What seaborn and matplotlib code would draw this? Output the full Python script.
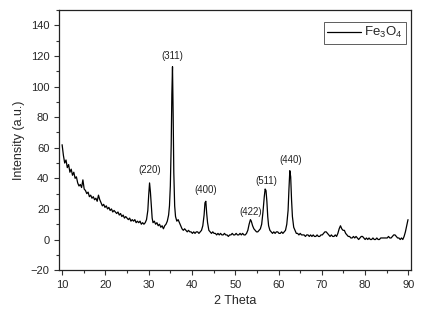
import matplotlib.pyplot as plt
import seaborn as sns
import pandas as pd
from matplotlib.ticker import MultipleLocator

# XRD pattern of Fe3O4 (10 points per row)
two_theta = [10.0, 10.3, 10.6, 10.9, 11.2, 11.5, 11.8, 12.1, 12.4, 12.7,
             13.0, 13.3, 13.6, 13.9, 14.2, 14.5, 14.8, 15.1, 15.4, 15.7,
             16.0, 16.3, 16.6, 16.9, 17.2, 17.5, 17.8, 18.1, 18.4, 18.7,
             19.0, 19.3, 19.6, 19.9, 20.2, 20.5, 20.8, 21.1, 21.4, 21.7,
             22.0, 22.3, 22.6, 22.9, 23.2, 23.5, 23.8, 24.1, 24.4, 24.7,
             25.0, 25.3, 25.6, 25.9, 26.2, 26.5, 26.8, 27.1, 27.4, 27.7,
             28.0, 28.3, 28.6, 28.9, 29.2, 29.5, 29.8, 30.0, 30.2, 30.4,
             30.6, 30.8, 31.0, 31.3, 31.6, 31.9, 32.2, 32.5, 32.8, 33.1,
             33.4, 33.7, 34.0, 34.3, 34.6, 34.8, 35.0, 35.2, 35.35, 35.5,
             35.65, 35.8, 36.0, 36.2, 36.5, 36.8, 37.1, 37.4, 37.7, 38.0,
             38.3, 38.6, 38.9, 39.2, 39.5, 39.8, 40.1, 40.4, 40.7, 41.0,
             41.3, 41.6, 41.9, 42.2, 42.5, 42.8, 43.0, 43.2, 43.4, 43.6,
             43.9, 44.2, 44.5, 44.8, 45.1, 45.4, 45.7, 46.0, 46.3, 46.6,
             46.9, 47.2, 47.5, 47.8, 48.1, 48.4, 48.7, 49.0, 49.3, 49.6,
             49.9, 50.2, 50.5, 50.8, 51.1, 51.4, 51.7, 52.0, 52.3, 52.6,
             52.9, 53.2, 53.5, 53.7, 54.0, 54.3, 54.6, 54.9, 55.2, 55.5,
             55.8, 56.1, 56.4, 56.7, 56.9, 57.1, 57.3, 57.5, 57.7, 58.0,
             58.3, 58.6, 58.9, 59.2, 59.5, 59.8, 60.1, 60.4, 60.7, 61.0,
             61.3, 61.6, 61.9, 62.2, 62.4, 62.6, 62.8, 63.0, 63.2, 63.5,
             63.8, 64.1, 64.4, 64.7, 65.0, 65.3, 65.6, 65.9, 66.2, 66.5,
             66.8, 67.1, 67.4, 67.7, 68.0, 68.3, 68.6, 68.9, 69.2, 69.5,
             69.8, 70.1, 70.4, 70.7, 71.0, 71.3, 71.6, 71.9, 72.2, 72.5,
             72.8, 73.1, 73.4, 73.7, 74.0, 74.3, 74.6, 74.9, 75.2, 75.5,
             75.8, 76.1, 76.4, 76.7, 77.0, 77.3, 77.6, 77.9, 78.2, 78.5,
             78.8, 79.1, 79.4, 79.7, 80.0, 80.3, 80.6, 80.9, 81.2, 81.5,
             81.8, 82.1, 82.4, 82.7, 83.0, 83.3, 83.6, 83.9, 84.2, 84.5,
             84.8, 85.1, 85.4, 85.7, 86.0, 86.3, 86.6, 86.9, 87.2, 87.5,
             87.8, 88.1, 88.4, 88.7, 89.0, 89.3, 89.6, 89.9]
intensity = [62, 55, 50, 52, 47, 49, 44, 46, 42, 44,
             40, 41, 37, 35, 36, 34, 39, 33, 32, 30,
             31, 28, 29, 27, 28, 26, 27, 25, 29, 26,
             24, 22, 23, 21, 22, 20, 21, 19, 20, 18,
             19, 18, 17, 18, 16, 17, 15, 16, 14, 15,
             14, 13, 14, 12, 13, 12, 13, 11, 12, 11,
             12, 10, 11, 10, 11, 13, 19, 29, 37, 31,
             22, 14, 11, 12, 10, 11, 9, 10, 8, 9,
             7, 9, 10, 12, 16, 22, 35, 62, 95, 113,
             82, 44, 22, 15, 12, 13, 11, 9, 7, 6,
             7, 6, 5, 6, 5, 5, 4, 5, 4, 5,
             5, 4, 5, 6, 9, 16, 24, 25, 17, 11,
             6, 5, 4, 5, 4, 4, 3, 4, 3, 4,
             3, 3, 4, 3, 3, 2, 3, 3, 4, 3,
             3, 4, 3, 3, 4, 3, 4, 3, 3, 4,
             6, 10, 13, 12, 9, 7, 6, 5, 5, 6,
             7, 10, 18, 28, 33, 32, 25, 15, 9, 6,
             5, 4, 5, 4, 5, 5, 4, 4, 5, 4,
             5, 6, 10, 19, 33, 45, 41, 26, 15, 8,
             6, 4, 4, 3, 4, 3, 3, 3, 2, 3,
             3, 2, 3, 2, 3, 2, 2, 3, 2, 2,
             3, 3, 4, 5, 5, 4, 3, 2, 3, 2,
             2, 3, 2, 4, 7, 9, 7, 6, 6, 4,
             3, 2, 2, 1, 1, 2, 1, 2, 1, 0,
             1, 2, 2, 1, 0, 1, 0, 1, 0, 0,
             1, 0, 0, 1, 0, 0, 1, 1, 1, 1,
             1, 1, 2, 1, 1, 2, 3, 3, 2, 1,
             1, 0, 1, 0, 2, 5, 9, 13]

peak_labels = ['(220)', '(311)', '(400)', '(422)', '(511)', '(440)']
peak_x = [30.2, 35.5, 43.2, 53.5, 57.2, 62.7]
peak_y = [42, 117, 29, 15, 35, 49]

df = pd.DataFrame({'2 Theta': two_theta, 'Intensity': intensity})

sns.set_style('ticks')
plt.rcParams['font.family'] = ['Liberation Sans', 'DejaVu Sans']
plt.rcParams['mathtext.fontset'] = 'custom'
plt.rcParams['mathtext.rm'] = 'Liberation Sans'
plt.rcParams['mathtext.it'] = 'Liberation Sans'

fig, ax = plt.subplots(figsize=(4.22, 3.17), dpi=100)
sns.lineplot(data=df, x='2 Theta', y='Intensity', color='black', linewidth=0.9,
             label='Fe$_3$O$_4$', ax=ax)

for lab, px, py in zip(peak_labels, peak_x, peak_y):
    ax.text(px, py, lab, ha='center', va='bottom', fontsize=7, color='#222222')

ax.set_xlim(9.3, 90.6)
ax.set_ylim(-20, 150)
ax.xaxis.set_major_locator(MultipleLocator(10))
ax.xaxis.set_minor_locator(MultipleLocator(5))
ax.yaxis.set_major_locator(MultipleLocator(20))
ax.yaxis.set_minor_locator(MultipleLocator(10))
ax.tick_params(which='major', length=3.5, width=0.8, labelsize=8, color='#333333')
ax.tick_params(which='minor', length=2, width=0.8, color='#333333')
for sp in ax.spines.values():
    sp.set_visible(True)
    sp.set_linewidth(0.9)
    sp.set_color('#222222')

ax.set_xlabel('2 Theta', fontsize=9)
ax.set_ylabel('Intensity (a.u.)', fontsize=9)

leg = ax.legend(loc='upper right', bbox_to_anchor=(0.985, 0.955), fontsize=9.5,
                fancybox=False, framealpha=1, edgecolor='#444444',
                handlelength=2.6, handletextpad=0.2, borderpad=0.25,
                borderaxespad=0.0)
leg.get_frame().set_linewidth(0.6)

fig.subplots_adjust(left=0.14, right=0.974, top=0.968, bottom=0.148)
fig.savefig('out.png', dpi=100)
